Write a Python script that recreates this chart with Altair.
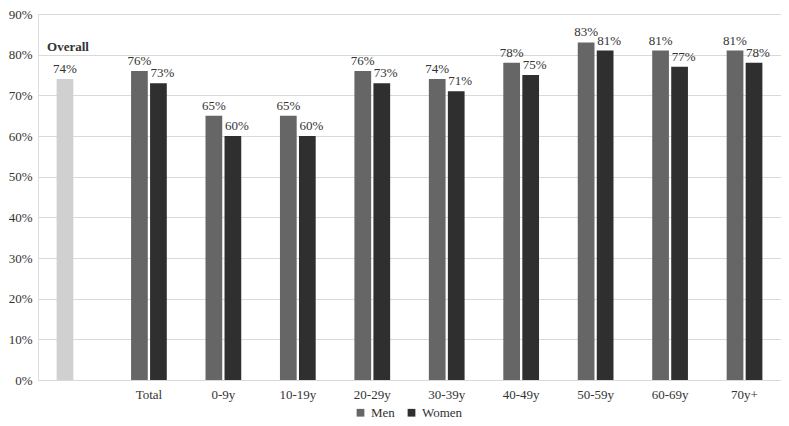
import altair as alt
import pandas as pd

categories = ["Overall", "Total", "0-9y", "10-19y", "20-29y", "30-39y",
              "40-49y", "50-59y", "60-69y", "70y+"]
overall_value = 74
men = [76, 65, 65, 76, 74, 78, 83, 81, 81]
women = [73, 60, 60, 73, 71, 75, 81, 77, 78]
y_ticks = [0, 10, 20, 30, 40, 50, 60, 70, 80, 90]
series_domain = ["Overall", "Men", "Women"]
series_colors = ["#d0d0d0", "#666666", "#2f2f2f"]

rows = [{"cat": "Overall", "slot": "A", "series": "Overall", "value": overall_value}]
for c, m, w in zip(categories[1:], men, women):
    rows.append({"cat": c, "slot": "A", "series": "Men", "value": m})
    rows.append({"cat": c, "slot": "B", "series": "Women", "value": w})
df = pd.DataFrame(rows)
df["label"] = df["value"].astype(str) + "%"

FONT = "Liberation Serif"

x_enc = alt.X("cat:N", sort=categories,
              scale=alt.Scale(domain=categories, paddingInner=0.52, paddingOuter=0.25),
              axis=alt.Axis(title=None, labelExpr="datum.label == 'Overall' ? '' : datum.label",
                            ticks=False, domain=False, labelAngle=0, labelFont=FONT,
                            labelFontSize=13, labelColor="#333333", labelPadding=8))
xo_enc = alt.XOffset("slot:N", scale=alt.Scale(domain=["A", "B"], paddingInner=0.12))
y_enc = alt.Y("value:Q", scale=alt.Scale(domain=[0, 90]),
              axis=alt.Axis(title=None, values=y_ticks, labelExpr="datum.value + '%'",
                            grid=True, gridColor="#d9d9d9", domain=False, ticks=False,
                            labelFont=FONT, labelFontSize=13, labelColor="#333333",
                            labelPadding=6))

base = alt.Chart(df)

bars = base.mark_bar().encode(
    x=x_enc, xOffset=xo_enc, y=y_enc,
    color=alt.Color("series:N",
                    scale=alt.Scale(domain=series_domain, range=series_colors),
                    legend=alt.Legend(values=["Men", "Women"], title=None, orient="none",
                                      direction="horizontal", legendX=316, legendY=392,
                                      symbolType="square", symbolSize=60,
                                      labelFont=FONT, labelFontSize=13,
                                      labelColor="#333333", columnPadding=10,
                                      symbolStrokeWidth=0))
)

text_a = base.transform_filter(alt.datum.slot == "A").mark_text(
    baseline="bottom", dy=-3, font=FONT, fontSize=13, color="#333333"
).encode(x=x_enc, xOffset=xo_enc, y="value:Q", text="label:N")

text_b = base.transform_filter(alt.datum.slot == "B").mark_text(
    baseline="bottom", dy=-3, dx=4, font=FONT, fontSize=13, color="#333333"
).encode(x=x_enc, xOffset=xo_enc, y="value:Q", text="label:N")

overall_df = pd.DataFrame([{"cat": "Overall", "slot": "A", "value": 80, "label": "Overall"}])
overall_text = alt.Chart(overall_df).mark_text(
    baseline="bottom", dy=-1, dx=3, font=FONT, fontSize=13, fontWeight="bold", color="#333333"
).encode(x=x_enc, xOffset=xo_enc, y="value:Q", text="label:N")

chart = alt.layer(bars, text_a, text_b, overall_text).properties(
    width=743, height=366, padding=0
).configure_view(stroke=None).configure(background="white")

chart.save("out.html", embed_options={"renderer": "svg", "actions": False})
